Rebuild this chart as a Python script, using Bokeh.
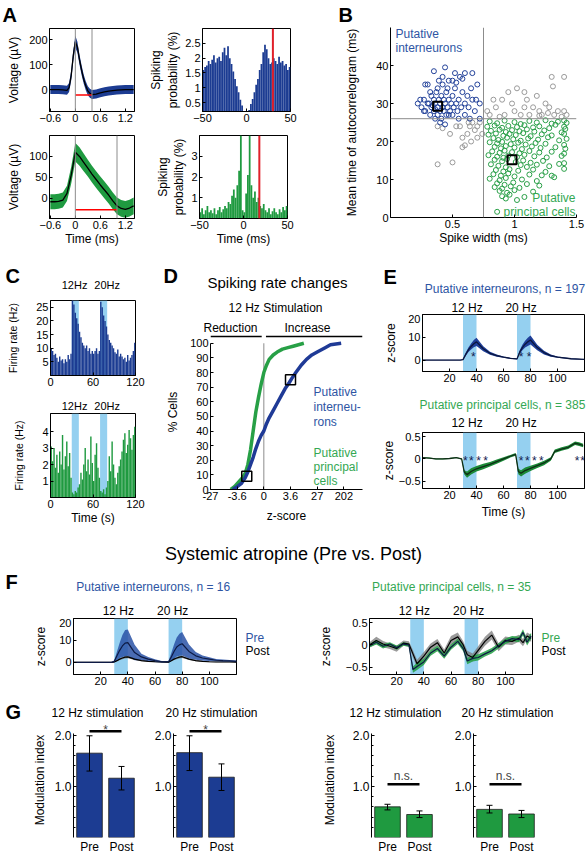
import numpy as np
from bokeh.plotting import figure
from bokeh.models import Range1d, FactorRange, FixedTicker, Label, Span, BoxAnnotation
from bokeh.layouts import row, column
from bokeh.embed import file_html
from bokeh.resources import INLINE
from bokeh.core.properties import value

FONT = "Liberation Sans"
BLUE = "#1c3c92"
BLUE_TXT = "#2e55a3"
GREEN = "#1f9a40"
GREEN_TXT = "#34a853"
LIGHT = "#95d0f0"
GREY = "#8c8c8c"

# ---------------- data: A (waveforms, autocorrelograms) ----------------
wave_t_int = [-0.6, -0.5, -0.4, -0.3, -0.2, -0.15, -0.1, -0.05, 0.0, 0.05, 0.1, 0.15, 0.2, 0.25,
              0.3, 0.35, 0.4, 0.5, 0.6, 0.7, 0.8, 0.9, 1.0, 1.1, 1.2, 1.3, 1.4]
wave_int_mean = [0, 0, 0, -1, -3, 8, 55, 135, 192, 170, 120, 78, 42, 15, -5, -15, -20, -18, -13,
                 -9, -6, -4, -2, -1, 0, 0, 0]
wave_int_sd = [18, 18, 18, 18, 18, 18, 20, 22, 24, 22, 20, 20, 18, 18, 18, 18, 18, 18, 18, 18,
               18, 18, 18, 18, 18, 18, 18]
a_int_marks = [0.0, 0.4]
a_int_trough = -22

wave_t_pyr = [-0.6, -0.5, -0.4, -0.3, -0.2, -0.1, 0.0, 0.1, 0.2, 0.3, 0.4, 0.5, 0.6, 0.7, 0.8,
              0.9, 1.0, 1.1, 1.2, 1.3, 1.4]
wave_pyr_mean = [-8, -8, -7, -4, 12, 55, 110, 100, 86, 72, 58, 45, 32, 20, 8, -6, -18, -24, -26,
                 -23, -18]
wave_pyr_sd = [18, 18, 18, 18, 18, 20, 22, 22, 21, 20, 20, 20, 20, 20, 20, 20, 20, 20, 20, 20, 20]
a_pyr_marks = [0.0, 1.0]
a_pyr_trough = -27
a_xticks = [-0.6, 0, 0.6, 1.2]

acg_bin = 2
acg_int = [1.6, 1.7, 1.75, 1.9, 1.8, 1.95, 2.1, 1.85, 2.0, 2.05, 1.9, 2.2, 2.35, 2.1, 2.4, 2.0,
           1.8, 1.55, 1.3, 1.05, 0.85, 0.6, 0.4, 0.22, 0.08,
           0.08, 0.25, 0.45, 0.62, 0.85, 1.1, 1.3, 1.6, 1.8, 2.2, 2.45, 2.3, 2.0, 1.8, 1.85, 2.0,
           1.9, 1.8, 2.05, 1.85, 1.9, 1.75, 1.8, 1.6, 1.7]
acg_pyr = [0.3, 0.5, 0.2, 0.4, 0.6, 0.3, 0.4, 0.25, 0.5, 0.2, 0.4, 0.55, 0.3, 0.45, 0.6, 0.5,
           0.8, 0.7, 1.1, 1.4, 1.0, 1.6, 2.3, 4.0, 0.4,
           0.3, 1.2, 2.1, 4.0, 1.6, 1.0, 1.3, 0.8, 1.0, 0.6, 0.5, 0.7, 0.4, 0.3, 0.5, 0.2, 0.35,
           0.5, 0.3, 0.2, 0.45, 0.3, 0.55, 0.4, 0.6]
acg_int_mark = 30
acg_pyr_mark = 18

# ---------------- data: B (scatter) ----------------
b_int_pts = [(0.22, 30), (0.25, 29), (0.27, 31), (0.28, 28), (0.30, 30), (0.30, 35), (0.32, 27),
             (0.33, 29), (0.33, 32), (0.35, 28), (0.35, 31), (0.36, 30), (0.36, 26), (0.37, 33),
             (0.38, 29), (0.38, 27), (0.39, 31), (0.40, 28), (0.40, 30), (0.41, 32), (0.41, 26),
             (0.42, 29), (0.42, 35), (0.43, 31), (0.43, 28), (0.44, 30), (0.45, 27), (0.45, 33),
             (0.46, 29), (0.47, 31), (0.47, 36), (0.48, 28), (0.49, 30), (0.50, 32), (0.50, 27),
             (0.51, 29), (0.52, 34), (0.53, 30), (0.54, 28), (0.55, 31), (0.56, 37), (0.57, 29),
             (0.58, 33), (0.60, 30), (0.60, 27), (0.62, 32), (0.63, 29), (0.65, 34), (0.66, 31),
             (0.68, 28), (0.70, 35), (0.72, 30), (0.72, 26), (0.35, 38.5), (0.42, 37),
             (0.44, 39.5), (0.52, 38), (0.60, 38), (0.50, 36), (0.46, 34), (0.38, 34),
             (0.32, 33), (0.27, 28), (0.24, 31), (0.55, 26), (0.64, 26), (0.44, 24.5),
             (0.40, 25), (0.58, 36.5), (0.66, 38), (0.69, 31), (0.47, 27), (0.31, 30),
             (0.34, 29.5), (0.36, 28.5), (0.28, 35), (0.39, 36), (0.53, 35.5)]
b_grey_pts = [(0.38, 24), (0.42, 23.5), (0.38, 14), (0.50, 14.5), (0.48, 22), (0.56, 24),
              (0.58, 21), (0.60, 19), (0.62, 22), (0.64, 24), (0.65, 20), (0.66, 25), (0.68, 23),
              (0.70, 21), (0.72, 25), (0.70, 24), (0.63, 25), (0.58, 18.5), (0.53, 24),
              (0.74, 22), (0.78, 28), (0.80, 27), (0.85, 29), (0.90, 31), (0.92, 27), (0.95, 33),
              (0.98, 30), (1.00, 28), (1.02, 34), (1.05, 27), (1.08, 29), (1.10, 31), (1.12, 27),
              (1.15, 29), (1.18, 32), (1.20, 28), (1.22, 27), (1.25, 30), (1.28, 29), (1.30, 37),
              (1.32, 27), (1.35, 28), (1.38, 26.5), (1.40, 37), (1.42, 27), (1.31, 34.5),
              (1.08, 33), (0.88, 26.5), (0.83, 31), (1.27, 27.5), (1.40, 28), (1.20, 26.8)]
b_pyr_pts = [(0.80, 25.3), (0.86, 24.8), (0.92, 25.5), (1.00, 25.1), (1.05, 24.6), (1.12, 25.4),
             (1.18, 25.0), (1.25, 25.6), (1.30, 24.7), (1.35, 25.2), (1.40, 25.5), (1.42, 24.9),
             (0.78, 23.9), (0.84, 24.2), (0.90, 23.6), (0.95, 24.1), (1.02, 23.8), (1.08, 24.3),
             (1.15, 23.7), (1.20, 24.0), (1.28, 23.5), (1.33, 24.4), (1.40, 23.9),
             (0.81, 22.8), (0.88, 23.1), (0.93, 22.5), (0.98, 23.0), (1.04, 22.7), (1.10, 23.2),
             (1.16, 22.6), (1.24, 22.9), (1.38, 22.4), (1.41, 23.3),
             (0.79, 21.8), (0.85, 22.1), (0.91, 21.5), (0.96, 22.0), (1.01, 21.7), (1.07, 22.2),
             (1.13, 21.4), (1.22, 21.9), (1.30, 21.6), (1.40, 22.0),
             (0.83, 20.9), (0.87, 20.4), (0.94, 21.0), (0.99, 20.6), (1.05, 20.2), (1.11, 20.8),
             (1.19, 20.5), (1.27, 21.1), (1.36, 20.3), (1.42, 20.7),
             (0.80, 19.8), (0.86, 19.5), (0.90, 19.9), (0.97, 19.3), (1.03, 19.7), (1.09, 19.2),
             (1.17, 19.6), (1.25, 19.4), (1.40, 19.1),
             (0.84, 18.6), (0.89, 18.2), (0.93, 18.8), (1.00, 18.4), (1.06, 18.0), (1.14, 18.7),
             (1.21, 18.3), (1.33, 18.5), (1.41, 18.1),
             (0.82, 17.4), (0.88, 17.0), (0.92, 17.6), (0.98, 17.2), (1.04, 16.9), (1.12, 17.5),
             (1.20, 17.1), (1.30, 17.3), (1.40, 16.8),
             (0.79, 16.4), (0.86, 16.0), (0.91, 15.7), (0.95, 16.3), (1.02, 15.9), (1.08, 16.5),
             (1.16, 16.1), (1.26, 15.8), (1.38, 16.2),
             (0.84, 15.2), (0.90, 14.8), (0.94, 15.4), (1.01, 14.6), (1.07, 15.0), (1.13, 14.4),
             (1.23, 14.9), (1.40, 14.3),
             (0.81, 14.0), (0.87, 13.6), (0.93, 13.2), (1.05, 13.8), (1.10, 13.3), (1.18, 13.9),
             (1.28, 13.5), (1.36, 14.1),
             (0.85, 12.5), (0.91, 12.1), (0.96, 12.7), (1.03, 12.3), (1.15, 12.6), (1.25, 12.0),
             (1.40, 12.8),
             (0.83, 11.4), (0.89, 11.0), (0.95, 11.6), (1.00, 10.8), (1.12, 11.3), (1.22, 11.1),
             (0.80, 10.2), (0.88, 9.8), (0.93, 10.4), (1.06, 10.0), (1.18, 9.6), (1.32, 10.6),
             (0.86, 9.0), (0.92, 8.6), (0.99, 9.2), (1.10, 8.8), (1.30, 11.0),
             (0.84, 8.0), (0.90, 7.6), (0.97, 8.2), (1.04, 7.8), (1.20, 8.4),
             (0.88, 7.0), (0.94, 6.5), (1.00, 7.2), (1.15, 6.8),
             (0.90, 5.6), (0.96, 6.0), (1.08, 5.4), (0.93, 5.0), (1.02, 4.6), (0.86, 1.5)]
b_median_x = [0.38, 0.98]
b_median_y = [29.3, 15.2]
b_width_cut = 0.75
b_acg_cut = 26

# ---------------- data: C (firing-rate histograms) ----------------
c_bin = 2
c_int = [10, 9, 7.5, 8, 6.5, 5, 7, 5.5, 6, 4.5, 6, 5, 7.5, 6, 8,
         28, 26, 23, 21, 19,
         16, 14, 12, 11, 10, 11, 9, 10, 8, 9, 8, 9, 10, 8, 9,
         27, 25, 22, 20, 18,
         15, 13, 12, 11, 10, 8.5, 8, 9.5, 7, 8, 7, 6, 6.5, 5, 7.5, 5.5, 6.5, 7.5, 9, 12]
c_pyr = [3.1, 2.2, 3.0, 1.8, 2.6, 1.5, 2.8, 2.0, 3.8, 1.7, 2.5, 3.4, 1.9, 2.7, 1.2,
         0.3, 0.2, 0.4, 0.3, 0.6,
         0.8, 1.5, 1.1, 2.0, 3.0, 1.6, 2.3, 1.4, 3.7, 2.1, 1.0, 2.6, 3.3, 1.8, 1.2,
         0.4, 0.3, 0.5, 0.2, 0.6,
         1.0, 2.5, 1.6, 3.4, 2.0, 1.2, 0.8, 1.5, 1.9, 2.3, 2.8, 3.5, 3.9, 2.7, 3.2, 4.1, 3.6,
         2.9, 3.8, 4.3]
stim_on = [30, 70]
stim_off = [40, 80]

# ---------------- data: D (cumulative z-score distributions) ----------------
d_tick_pos = [-2, -1, 0, 1, 2, 3]
d_tick_labels = ["-27", "-3.6", "0", "3.6", "27", "202"]
d_int_pos = [-1.16, -1.0, -0.85, -0.7, -0.6, -0.5, -0.4, -0.3, -0.2, -0.1, 0, 0.1, 0.2, 0.35,
             0.5, 0.65, 0.8, 0.95, 1.05, 1.2, 1.4, 1.6, 1.8, 2.0, 2.3, 2.5, 2.9]
d_int_pct = [0, 2, 4, 8, 12, 17, 22, 28, 33, 37, 40, 45, 49, 54, 59, 64, 69, 73, 76, 80, 85, 89,
             92, 94, 97, 99, 100]
d_pyr_pos = [-1.24, -1.1, -0.95, -0.8, -0.7, -0.6, -0.5, -0.4, -0.3, -0.2, -0.1, 0, 0.1, 0.2,
             0.35, 0.5, 0.7, 0.9, 1.1, 1.3, 1.5]
d_pyr_pct = [0, 2, 5, 8, 11, 17, 27, 40, 53, 63, 72, 80, 85, 89, 92, 94, 96, 97, 98, 99, 100]
d_mark_pos = [1.0, -0.64]
d_mark_pct = [75, 9]
d_yticks = [0, 10, 20, 30, 40, 50, 60, 70, 80, 90, 100]

# ---------------- data: E (population z-scores) ----------------
e_int_t = [0, 10, 20, 28, 30, 32, 34, 36, 38, 40, 45, 50, 55, 60, 65, 70, 72, 74, 76, 78, 80, 85,
           90, 95, 100, 110, 120]
e_int_mean = [0, 0, 0, 0, 0.2, 2.5, 4.5, 6, 7.2, 8, 5, 3, 2, 1.3, 0.8, 0.5, 3.5, 5.5, 7, 8, 8.8,
              5.5, 3.3, 2, 1.3, 0.6, 0.3]
e_int_sem = [0.1, 0.1, 0.1, 0.1, 0.2, 0.7, 1.0, 1.3, 1.6, 1.8, 1.1, 0.7, 0.5, 0.3, 0.2, 0.2, 0.8,
             1.2, 1.5, 1.8, 2.0, 1.2, 0.8, 0.5, 0.3, 0.2, 0.1]
e_int_star_t = [37.7, 73, 79]
e_int_star_z = [2.6, 2.6, 2.6]

e_pyr_t = [0, 5, 10, 15, 20, 25, 29, 31, 33, 36, 40, 45, 50, 55, 60, 65, 69, 71, 73, 76, 80, 85,
           90, 95, 98, 103, 108, 113, 116, 119]
e_pyr_mean = [0.03, 0.02, 0.0, 0.0, 0.01, 0.03, 0.0, -0.3, -0.35, -0.28, -0.22, -0.17, -0.12,
              -0.06, 0.0, 0.06, 0.1, -0.28, -0.32, -0.26, -0.21, -0.15, -0.09, 0.0, 0.17, 0.22,
              0.26, 0.35, 0.33, 0.3]
e_pyr_sem = [0.01, 0.01, 0.01, 0.01, 0.01, 0.01, 0.01, 0.05, 0.07, 0.07, 0.06, 0.06, 0.05, 0.05,
             0.04, 0.03, 0.03, 0.06, 0.07, 0.07, 0.06, 0.05, 0.05, 0.04, 0.04, 0.04, 0.04, 0.04,
             0.04, 0.04]
e_pyr_star_t = [31.7, 36.2, 41.5, 46.7, 73, 77.6, 82.9, 88, 114.5, 118.5]
e_pyr_star_z = [0.02] * 10

# ---------------- data: F (atropine, pre vs post) ----------------
f_int_t = [0, 10, 20, 28, 30, 32, 34, 36, 38, 40, 45, 50, 55, 60, 65, 70, 72, 74, 76, 78, 80, 85,
           90, 95, 100, 105, 110, 115, 120]
f_int_pre = [0, 0, 0, 0, 0.5, 3, 5.5, 7.5, 8.8, 9, 4.5, 2.5, 1.5, 0.8, 0.3, 0.3, 2.5, 5, 7, 8,
             8.5, 5, 3, 2, 1.5, 1, 0.8, 0.7, 0.5]
f_int_pre_sem = [0.1, 0.1, 0.1, 0.2, 0.4, 2, 3.5, 5, 6, 6, 3.5, 1.5, 1, 0.6, 0.4, 0.4, 1.8, 3.2,
                 4.3, 5, 5.3, 3.2, 1.8, 1.2, 0.9, 0.6, 0.5, 0.4, 0.4]
f_int_post = [0, 0, 0, 0, 0.2, 0.8, 1.5, 2, 2.4, 2.5, 1.5, 0.8, 0.5, 0.3, 0.2, 0.1, 0.8, 1.5, 2,
              2.4, 2.6, 1.5, 0.8, 0.5, 0.3, 0.2, 0.2, 0.2, 0.1]
f_int_post_sem = [0.1, 0.1, 0.1, 0.1, 0.2, 0.3, 0.4, 0.5, 0.6, 0.6, 0.4, 0.3, 0.2, 0.2, 0.1, 0.1,
                  0.3, 0.4, 0.5, 0.6, 0.6, 0.4, 0.3, 0.2, 0.2, 0.1, 0.1, 0.1, 0.1]

f_pyr_t = [0, 5, 10, 15, 20, 25, 29, 32, 35, 40, 45, 50, 55, 60, 65, 69, 72, 76, 80, 85, 90, 95,
           100, 105, 110, 113, 116, 119]
f_pyr_pre = [-0.02, 0.06, -0.03, 0.02, -0.06, 0.02, 0.0, -0.55, -0.48, -0.38, -0.18, -0.08,
             -0.25, -0.05, 0.08, -0.08, -0.36, -0.3, -0.28, -0.2, -0.13, -0.02, 0.08, 0.14, 0.12,
             0.28, 0.06, 0.2]
f_pyr_pre_sem = [0.04, 0.05, 0.05, 0.04, 0.05, 0.04, 0.04, 0.07, 0.08, 0.07, 0.06, 0.06, 0.06,
                 0.06, 0.06, 0.06, 0.07, 0.07, 0.07, 0.06, 0.06, 0.06, 0.06, 0.06, 0.06, 0.07,
                 0.07, 0.07]
f_pyr_post = [0.0, 0.1, 0.02, -0.03, -0.08, 0.04, 0.02, -0.2, -0.42, -0.25, -0.05, 0.05, -0.18,
              0.1, 0.18, 0.0, -0.22, -0.28, -0.12, 0.08, 0.22, -0.05, 0.1, 0.08, 0.15, 0.05, 0.2,
              0.15]
f_pyr_post_sem = [0.06, 0.08, 0.07, 0.06, 0.07, 0.06, 0.06, 0.08, 0.09, 0.09, 0.08, 0.08, 0.08,
                  0.1, 0.1, 0.08, 0.09, 0.09, 0.09, 0.1, 0.1, 0.09, 0.09, 0.08, 0.08, 0.08, 0.08,
                  0.08]

# ---------------- data: G (modulation index) ----------------
g_cats = ["Pre", "Post"]
g_int12 = [1.65, 1.16]
g_int12_lo = [1.30, 0.93]
g_int12_hi = [1.99, 1.39]
g_int20 = [1.66, 1.18]
g_int20_lo = [1.31, 0.92]
g_int20_hi = [1.99, 1.44]
g_pyr12 = [0.60, 0.45]
g_pyr12_lo = [0.54, 0.39]
g_pyr12_hi = [0.65, 0.52]
g_pyr20 = [0.55, 0.46]
g_pyr20_lo = [0.48, 0.39]
g_pyr20_hi = [0.63, 0.53]
g_sig_star = 2.08
g_sig_ns = 1.04
g_minor = [0.2, 0.4, 0.6, 0.8, 1.2, 1.4, 1.6, 1.8]

# ================= helpers =================
GEOM = {}


def sty(ax, ls="11px"):
    ax.major_label_text_font = FONT
    ax.major_label_text_font_size = ls
    ax.major_label_text_color = "black"
    ax.axis_label_text_font = FONT
    ax.axis_label_text_font_size = "12px"
    ax.axis_label_text_font_style = "normal"
    ax.axis_label_text_color = "black"
    ax.major_tick_in = 3
    ax.major_tick_out = 0
    ax.minor_tick_line_color = None
    ax.major_label_standoff = 2
    ax.axis_label_standoff = 3
    ax.axis_line_color = "black"
    ax.major_tick_line_color = "black"


def mk(fl, ft, fw, fh, br, bb, xr, yr, outline=True):
    p = figure(frame_width=fw, frame_height=fh, min_border_left=fl, min_border_top=ft,
               min_border_right=br, min_border_bottom=bb, x_range=xr, y_range=yr,
               toolbar_location=None, output_backend="svg", tools="", title=None,
               frame_align=False)
    p.xgrid.visible = False
    p.ygrid.visible = False
    p.outline_line_color = "black" if outline else None
    p.outline_line_width = 1
    p.border_fill_color = "white"
    for ax in p.axis:
        sty(ax)
    GEOM[p.id] = (fl, ft, fw, fh)
    return p


def strip(W, H):
    """Text-only figure whose data coordinates are canvas pixels (y downwards)."""
    p = figure(width=W, height=H, x_range=Range1d(0, W), y_range=Range1d(H, 0),
               min_border_left=0, min_border_right=0, min_border_top=0, min_border_bottom=0,
               toolbar_location=None, output_backend="svg", tools="", title=None,
               x_axis_location=None, y_axis_location=None, frame_align=False)
    p.xgrid.visible = False
    p.ygrid.visible = False
    p.outline_line_color = None
    p.border_fill_color = "white"
    return p


def st(p, x, y, text, size="12px", color="black", align="center", bold=False):
    p.text(x=[x], y=[y], text=[text], text_font=value(FONT), text_font_size=value(size),
           text_color=color, text_align=align, text_baseline="middle",
           text_font_style="bold" if bold else "normal")


def px(xd, fl, fw, x0, x1):
    return fl + (xd - x0) / (x1 - x0) * fw


def lab(p, cx, cy, text, size="12px", color="black", align="center"):
    fl, ft, fw, fh = GEOM[p.id]
    p.add_layout(Label(x=cx - fl, y=ft + fh - cy, x_units="screen", y_units="screen", text=text,
                       text_font=FONT, text_font_size=size, text_color=color, text_align=align,
                       text_baseline="middle"))


def stim(p):
    for a, b in zip(stim_on, stim_off):
        p.add_layout(BoxAnnotation(left=a, right=b, fill_color=LIGHT, fill_alpha=1.0,
                                   line_color=None, level="underlay"))


def band(p, t, m, s, fill, alpha=1.0):
    m = np.array(m, dtype=float)
    s = np.array(s, dtype=float)
    p.varea(x=t, y1=m - s, y2=m + s, fill_color=fill, fill_alpha=alpha)


# ================= band 1: A and B (y 0..260) =================
s1 = strip(587, 27)
st(s1, 2, 14, "A", size="20px", align="left", bold=True)
st(s1, 338, 14, "B", size="20px", align="left", bold=True)


def wave(ft, bb, yr, t, m, s, color, marks, trough, yticks, xlabel=False):
    p = mk(49, ft, 85, 83, 12, bb, Range1d(-0.62, 1.42), yr)
    band(p, t, m, s, color)
    p.line(t, m, line_color="black", line_width=1.3)
    for mk_t in marks:
        p.add_layout(Span(location=mk_t, dimension="height", line_color=GREY, line_width=1))
    p.segment(x0=[marks[0]], x1=[marks[1]], y0=[trough], y1=[trough], line_color="red",
              line_width=1.6)
    p.xaxis.ticker = FixedTicker(ticks=a_xticks)
    p.xaxis.major_label_overrides = {0: "0"}
    p.yaxis.ticker = FixedTicker(ticks=yticks)
    p.yaxis.axis_label = "Voltage (µV)"
    p.yaxis.axis_label_standoff = 5
    if xlabel:
        p.xaxis.axis_label = "Time (ms)"
        p.xaxis.axis_label_standoff = 0
    return p


pATL = wave(1, 17, Range1d(-88, 245), wave_t_int, wave_int_mean, wave_int_sd, BLUE,
            a_int_marks, a_int_trough, [0, 100, 200])
pABL = wave(7, 42, Range1d(-48, 150), wave_t_pyr, wave_pyr_mean, wave_pyr_sd, GREEN,
            a_pyr_marks, a_pyr_trough, [0, 50, 100], xlabel=True)


def acg(ft, bb, yr, vals, color, mark, yticks, overrides, xlabel=False):
    p = mk(53, ft, 88, 83, 13, bb, Range1d(-50, 50), yr)
    centers = np.arange(-50 + acg_bin / 2, 50, acg_bin)
    p.vbar(x=centers, top=vals, bottom=0, width=acg_bin, fill_color=color, line_color=None)
    p.add_layout(Span(location=mark, dimension="height", line_color="#e0202a", line_width=2))
    p.xaxis.ticker = FixedTicker(ticks=[-50, 0, 50])
    p.yaxis.ticker = FixedTicker(ticks=yticks)
    p.yaxis.major_label_overrides = overrides
    p.yaxis.axis_label = "Spiking\nprobability (%)"
    p.yaxis.axis_label_standoff = 2
    if xlabel:
        p.xaxis.axis_label = "Time (ms)"
        p.xaxis.axis_label_standoff = 0
    return p


pATR = acg(1, 17, Range1d(0.2, 3.0), acg_int, BLUE, acg_int_mark, [0.5, 1, 1.5, 2, 2.5],
           {1: "1", 2: "2"})
pABR = acg(7, 42, Range1d(0, 4.0), acg_pyr, GREEN, acg_pyr_mark, [1, 2, 3], {}, xlabel=True)

pB = mk(87, 0, 186, 190, 14, 43, Range1d(0, 1.5), Range1d(0, 50), outline=False)
pB.add_layout(Span(location=b_width_cut, dimension="height", line_color=GREY, line_width=1))
pB.add_layout(Span(location=b_acg_cut, dimension="width", line_color=GREY, line_width=1))
for pts, col in ((b_grey_pts, "#9a9a9a"), (b_int_pts, "#23429a"), (b_pyr_pts, "#2aa048")):
    pB.scatter([q[0] for q in pts], [q[1] for q in pts], marker="circle", size=5,
               fill_color=None, line_color=col, line_width=1)
pB.scatter(b_median_x, b_median_y, marker="square", size=9, fill_color=None,
           line_color="black", line_width=2)
pB.xaxis.ticker = FixedTicker(ticks=[0.5, 1, 1.5])
pB.xaxis.major_label_overrides = {1: "1"}
pB.yaxis.ticker = FixedTicker(ticks=[0, 10, 20, 30, 40])
pB.xaxis.axis_label = "Spike width (ms)"
pB.xaxis.axis_label_standoff = 0
pB.yaxis.axis_label = "Mean time of autocorrelogram (ms)"
pB.yaxis.axis_label_standoff = 14
lab(pB, 92, 6, "Putative", color=BLUE_TXT, align="left")
lab(pB, 92, 20, "interneurons", color=BLUE_TXT, align="left")
lab(pB, 272, 170, "Putative", color=GREEN_TXT, align="right")
lab(pB, 272, 184, "principal cells", color=GREEN_TXT, align="right")

band1 = column(s1, row(column(pATL, pABL), column(pATR, pABR), pB))

# ================= band 2: C, D, E (y 260..538) =================
def rate(fh, bb, yr, vals, color, yticks, xlabel=False):
    p = mk(50, 0, 85, fh, 28, bb, Range1d(0, 120), yr)
    stim(p)
    centers = np.arange(c_bin / 2, 120, c_bin)
    p.vbar(x=centers, top=vals, bottom=0, width=c_bin, fill_color=color, line_color=None)
    p.xaxis.ticker = FixedTicker(ticks=[0, 60, 120])
    p.yaxis.ticker = FixedTicker(ticks=yticks)
    p.yaxis.axis_label = "Firing rate (Hz)"
    p.yaxis.axis_label_text_font_size = "10.5px"
    p.yaxis.axis_label_standoff = 14
    if xlabel:
        p.xaxis.axis_label = "Time (s)"
        p.xaxis.axis_label_standoff = 0
    return p


sC1 = strip(163, 40)
st(sC1, 5, 15, "C", size="20px", align="left", bold=True)
st(sC1, px(34, 50, 85, 0, 120), 24, "12Hz", size="11px")
st(sC1, px(80, 50, 85, 0, 120), 24, "20Hz", size="11px")
pC1 = rate(75, 15, Range1d(0, 27.5), c_int, BLUE, [5, 10, 15, 20, 25])
sC2 = strip(163, 23)
st(sC2, px(34, 50, 85, 0, 120), 15.5, "12Hz", size="11px")
st(sC2, px(80, 50, 85, 0, 120), 15.5, "20Hz", size="11px")
pC2 = rate(84, 41, Range1d(0, 5.1), c_pyr, GREEN, [1, 2, 3, 4], xlabel=True)

sD = strip(205, 74)
st(sD, 0, 15, "D", size="20px", align="left", bold=True)
st(sD, 114, 22, "Spiking rate changes", size="15px")
st(sD, 112, 47.5, "12 Hz Stimulation", size="12px")
st(sD, 67, 67, "Reduction", size="12px")
st(sD, 144, 67, "Increase", size="12px")

pD = mk(40, 0, 152, 155, 13, 49, Range1d(-2.0, 3.7), Range1d(0, 106), outline=False)
pD.segment(x0=[0], x1=[0], y0=[0], y1=[100], line_color=GREY, line_width=1)
pD.segment(x0=[-2.0, 0.08], x1=[-0.08, 3.7], y0=[104.6, 104.6], y1=[104.6, 104.6],
           line_color="black", line_width=1.5)
pD.line(d_pyr_pos, d_pyr_pct, line_color="#27a046", line_width=3.5)
pD.line(d_int_pos, d_int_pct, line_color="#1f3a96", line_width=3.5)
pD.scatter(d_mark_pos, d_mark_pct, marker="square", size=10, fill_color=None,
           line_color="black", line_width=1.5)
pD.yaxis.bounds = (0, 100)
pD.yaxis.ticker = FixedTicker(ticks=d_yticks)
pD.xaxis.ticker = FixedTicker(ticks=d_tick_pos)
pD.xaxis.major_label_overrides = dict(zip(d_tick_pos, d_tick_labels))
pD.yaxis.axis_label = "% Cells"
pD.yaxis.axis_label_standoff = 7
pD.xaxis.axis_label = "z-score"
pD.xaxis.axis_label_standoff = 6
for i, txt in enumerate(["Putative", "interneu-", "rons"]):
    lab(pD, 143, 57 + 15 * i, txt, color=BLUE_TXT, align="left")
for i, txt in enumerate(["Putative", "principal", "cells"]):
    lab(pD, 143, 118 + 14 * i, txt, color=GREEN_TXT, align="left")

sE1 = strip(219, 54)
st(sE1, 8, 16.5, "E", size="20px", align="left", bold=True)
st(sE1, 129.5, 28.5, "Putative interneurons, n = 197", color=BLUE_TXT)
st(sE1, px(33, 47, 162, 0, 120), 47, "12 Hz")
st(sE1, px(73, 47, 162, 0, 120), 47, "20 Hz")

pE1 = mk(47, 0, 162, 57, 10, 22, Range1d(0, 120), Range1d(-5, 20))
stim(pE1)
band(pE1, e_int_t, e_int_mean, e_int_sem, "#1f3f99")
pE1.line(e_int_t, e_int_mean, line_color="#0b163d", line_width=1.3)
pE1.text(x=e_int_star_t, y=e_int_star_z, text=["*"] * len(e_int_star_t), text_font=value(FONT),
         text_font_size=value("12px"), text_align="center", text_baseline="middle", y_offset=3,
         text_color="#14204f")
pE1.xaxis.ticker = FixedTicker(ticks=[20, 40, 60, 80, 100])
pE1.yaxis.ticker = FixedTicker(ticks=[0, 10, 20])
pE1.yaxis.axis_label = "z-score"
pE1.yaxis.axis_label_standoff = 7

sE2 = strip(219, 39)
st(sE2, 127, 11.5, "Putative principal cells, n = 385", color=GREEN_TXT)
st(sE2, px(33, 47, 162, 0, 120), 29.5, "12 Hz")
st(sE2, px(73, 47, 162, 0, 120), 29.5, "20 Hz")

pE2 = mk(47, 0, 162, 56, 10, 50, Range1d(0, 120), Range1d(-0.66, 0.59))
stim(pE2)
band(pE2, e_pyr_t, e_pyr_mean, e_pyr_sem, "#1c8a38")
pE2.line(e_pyr_t, e_pyr_mean, line_color="#0f2e16", line_width=1.3)
pE2.text(x=e_pyr_star_t, y=e_pyr_star_z, text=["*"] * len(e_pyr_star_t), text_font=value(FONT),
         text_font_size=value("12px"), text_align="center", text_baseline="middle", y_offset=3,
         text_color="#14204f")
pE2.xaxis.ticker = FixedTicker(ticks=[20, 40, 60, 80, 100])
pE2.yaxis.ticker = FixedTicker(ticks=[-0.5, 0, 0.5])
pE2.yaxis.major_label_overrides = {0: "0"}
pE2.yaxis.axis_label = "z-score"
pE2.yaxis.axis_label_standoff = 0
pE2.xaxis.axis_label = "Time (s)"
pE2.xaxis.axis_label_standoff = 3

band2 = row(column(sC1, pC1, sC2, pC2), column(sD, pD), column(sE1, pE1, sE2, pE2))

# ================= band 3: title (y 538..568) =================
pT = strip(587, 30)
st(pT, 293, 15.5, "Systemic atropine (Pre vs. Post)", size="18px")

# ================= band 4: F (y 568..700) =================
sF = strip(587, 50)
st(sF, 5, 13.5, "F", size="20px", align="left", bold=True)
st(sF, 152.7, 18, "Putative interneurons, n = 16", color=BLUE_TXT)
st(sF, 451, 18, "Putative principal cells, n = 35", color=GREEN_TXT)
for off, fl in ((0, 73), (300, 69)):
    st(sF, off + px(33, fl, 163, 0, 120), 42, "12 Hz")
    st(sF, off + px(73, fl, 163, 0, 120), 42, "20 Hz")


def fplot(fl, yr, t, pre, pre_s, post, post_s, pre_col, post_col, yticks, overrides, std):
    p = mk(fl, 0, 163, 56, 1, 26, Range1d(0, 120), yr)
    stim(p)
    band(p, t, post, post_s, post_col, 0.75)
    band(p, t, pre, pre_s, pre_col, 0.85)
    p.line(t, post, line_color="black", line_width=1.2)
    p.line(t, pre, line_color="#0d1a44", line_width=1.2)
    p.xaxis.ticker = FixedTicker(ticks=[20, 40, 60, 80, 100])
    p.yaxis.ticker = FixedTicker(ticks=yticks)
    p.yaxis.major_label_overrides = overrides
    p.yaxis.axis_label = "z-score"
    p.yaxis.axis_label_standoff = std
    return p


def legend_strip(W, pre_col):
    s = strip(W, 82)
    st(s, 8, 19, "Pre", color=pre_col, align="left")
    st(s, 8, 32, "Post", align="left")
    return s


pF1 = fplot(73, Range1d(-5.5, 20), f_int_t, f_int_pre, f_int_pre_sem, f_int_post,
            f_int_post_sem, "#2a52a6", "#6e6e6e", [0, 10, 20], {}, 8)
pF2 = fplot(69, Range1d(-0.66, 0.59), f_pyr_t, f_pyr_pre, f_pyr_pre_sem, f_pyr_post,
            f_pyr_post_sem, "#22a043", "#7a7a7a", [-0.5, 0, 0.5], {0: "0"}, 10)
band4 = column(sF, row(pF1, legend_strip(63, BLUE_TXT), pF2, legend_strip(54, GREEN_TXT)))

# ================= band 5: G (y 700..853) =================
sG = strip(587, 22)
st(sG, 5, 11.5, "G", size="20px", align="left", bold=True)
for cx, txt in ((97, "12 Hz stimulation"), (211, "20 Hz stimulation"),
                (395, "12 Hz stimulation"), (507, "20 Hz stimulation")):
    st(sG, cx, 12.5, txt)


def gbar(fl, br, vals, lo, hi, color, ylabel, std, sig_y, sig_text):
    p = mk(fl, 0, 64, 115, br, 16, FactorRange(factors=g_cats), Range1d(0, 2.25),
           outline=False)
    p.vbar(x=g_cats, top=vals, width=0.8, fill_color=color, line_color="#1a1a1a",
           line_width=0.8)
    p.segment(x0=g_cats, y0=lo, x1=g_cats, y1=hi, line_color="black", line_width=1)
    p.scatter(x=g_cats + g_cats, y=lo + hi, marker="dash", size=6, line_color="black",
              line_width=1)
    p.segment(x0=[g_cats[0]], x1=[g_cats[1]], y0=[sig_y], y1=[sig_y], line_color="black",
              line_width=2.5)
    fl_, ft_, fw_, fh_ = GEOM[p.id]
    if sig_text == "*":
        p.add_layout(Label(x=fw_ / 2, y=sig_y, x_units="screen", y_units="data", text="*",
                           text_font=FONT, text_font_size="12px", text_align="center",
                           text_baseline="middle", y_offset=1))
    else:
        p.add_layout(Label(x=fw_ / 2, y=sig_y + 0.17, x_units="screen", y_units="data",
                           text=sig_text, text_font=FONT, text_font_size="12px",
                           text_align="center", text_baseline="middle"))
    p.yaxis.ticker = FixedTicker(ticks=[1.0, 2.0], minor_ticks=g_minor)
    p.yaxis.major_label_overrides = {1: "1.0", 2: "2.0"}
    p.yaxis.minor_tick_line_color = "black"
    p.yaxis.minor_tick_in = 2
    p.yaxis.minor_tick_out = 0
    p.yaxis.bounds = (0, 2.03)
    p.yaxis.major_label_text_font_size = "12px"
    p.xaxis.axis_line_color = None
    p.xaxis.major_tick_line_color = None
    p.xaxis.major_label_text_font_size = "12px"
    if ylabel:
        p.yaxis.axis_label = "Modulation index"
        p.yaxis.axis_label_standoff = std
    return p


pG1 = gbar(73, 11, g_int12, g_int12_lo, g_int12_hi, BLUE, True, 5, g_sig_star, "*")
pG2 = gbar(25, 63, g_int20, g_int20_lo, g_int20_hi, BLUE, False, 0, g_sig_star, "*")
pG3 = gbar(71, 13, g_pyr12, g_pyr12_lo, g_pyr12_hi, GREEN, True, 13, g_sig_ns, "n.s.")
pG4 = gbar(25, 50, g_pyr20, g_pyr20_lo, g_pyr20_hi, GREEN, False, 0, g_sig_ns, "n.s.")
band5 = column(sG, row(pG1, pG2, pG3, pG4))

root = column(band1, band2, pT, band4, band5)

with open("out.html", "w") as f:
    f.write(file_html(root, INLINE))
